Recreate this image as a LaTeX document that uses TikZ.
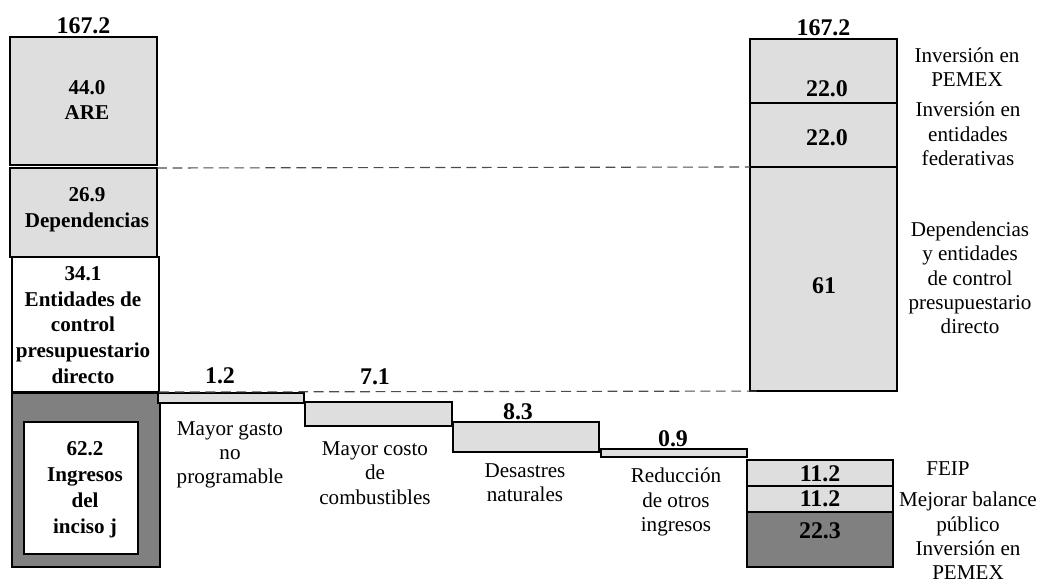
\documentclass[tikz,border=0pt]{standalone}
\usepackage{fontspec}
\setmainfont{Liberation Serif}
\usetikzlibrary{positioning}

\definecolor{lgray}{HTML}{DEDEDE}
\definecolor{dgray}{HTML}{808080}

\tikzset{
    blk/.style={draw, line width=0.9pt, anchor=north west, inner sep=0pt, outer sep=0pt},
    lite/.style={blk, fill=lgray},
    dark/.style={blk, fill=dgray},
    val/.style={font=\fontsize{17}{20}\selectfont\bfseries, inner sep=1pt},
    btxt/.style={font=\fontsize{15}{18.4}\selectfont\bfseries, align=center, inner sep=0pt},
    lbl/.style={font=\fontsize{15}{17.3}\selectfont, align=center, inner sep=0pt},
    guide/.style={draw=black!70, line width=0.8pt, dash pattern=on 7pt off 4pt}
}

\begin{document}
\begin{tikzpicture}[x=0.025cm, y=-0.025cm]
    \useasboundingbox (0,0) rectangle (1040,582);

    % columna izquierda
    \node[lite, minimum width=3.675cm, minimum height=3.2cm] (are) at (10,37) {};
    \node[lite, minimum width=3.675cm, minimum height=2.225cm] (dep) at (10,168) {};
    \node[blk, fill=white, minimum width=3.675cm, minimum height=3.375cm] (ent) at (12,257) {};
    \node[dark, minimum width=3.7cm, minimum height=4.35cm] (ing) at (12,393) {};
    \node[blk, fill=white, line width=2pt, minimum width=2.85cm, minimum height=3.3cm] (inc) at (24,422) {};

    \node[val, above=1pt of are] (totl) {167.2};
    \node[btxt] (t44) at (87,100) {44.0\\ARE};
    \node[btxt] (t269) at (87,210) {26.9\\Dependencias};
    \node[btxt] (t341) at (83,325) {34.1\\Entidades de\\control\\presupuestario\\directo};
    \node[btxt] (t622) at (85,490) {62.2\\Ingresos\\del\\inciso j};

    % barras intermedias
    \node[lite, minimum width=3.65cm, minimum height=0.25cm] (b1) at (158,393) {};
    \node[lite, minimum width=3.675cm, minimum height=0.6cm] (b2) at (305,402) {};
    \node[lite, minimum width=3.65cm, minimum height=0.75cm] (b3) at (453,422) {};
    \node[lite, minimum width=3.65cm, minimum height=0.2cm] (b4) at (601,449) {};

    \node[val] (v1) at (220,376) {1.2};
    \node[val] (v2) at (375,377) {7.1};
    \node[val] (v3) at (518,412) {8.3};
    \node[val] (v4) at (673,439) {0.9};

    \node[lbl] (l1) at (230,455) {Mayor gasto\\no\\programable};
    \node[lbl] (l2) at (375,473) {Mayor costo\\de\\combustibles};
    \node[lbl] (l3) at (525,483) {Desastres\\naturales};
    \node[lbl] (l4) at (676,502) {Reducción\\de otros\\ingresos};

    % columna derecha
    \node[lite, minimum width=3.675cm, minimum height=1.6cm] (r1) at (750,39) {};
    \node[lite, minimum width=3.675cm, minimum height=1.6cm] (r2) at (750,103) {};
    \node[lite, minimum width=3.675cm, minimum height=5.6cm] (r3) at (750,167) {};

    \node[lite, minimum width=3.65cm, minimum height=0.65cm] (s1) at (747,460) {};
    \node[lite, minimum width=3.65cm, minimum height=0.65cm] (s2) at (747,486) {};
    \node[dark, minimum width=3.65cm, minimum height=1.375cm] (s3) at (747,512) {};

    \node[val, above=1pt of r1] (totr) {167.2};
    \node[val] (v22a) at (827,89) {22.0};
    \node[val] (v22b) at (827,138) {22.0};
    \node[val] (v61) at (824,286) {61};
    \node[val] (v112a) at (820,474) {11.2};
    \node[val] (v112b) at (820,499) {11.2};
    \node[val] (v223) at (820,531) {22.3};

    \node[lbl] (n1) at (967,67) {Inversión en\\PEMEX};
    \node[lbl] (n2) at (968,134) {Inversión en\\entidades\\federativas};
    \node[lbl] (n3) at (970,278) {Dependencias\\y entidades\\de control\\presupuestario\\directo};
    \node[lbl] (n4) at (948,469) {FEIP};
    \node[lbl] (n5) at (968,514) {Mejorar balance\\público};
    \node[lbl] (n6) at (968,560) {Inversión en\\PEMEX};

    % lineas guia
    \draw[guide] (dep.north east) -- (r3.north west);
    \draw[guide] (ent.south east) -- ([xshift=0.3cm]r3.south west);
\end{tikzpicture}
\end{document}
